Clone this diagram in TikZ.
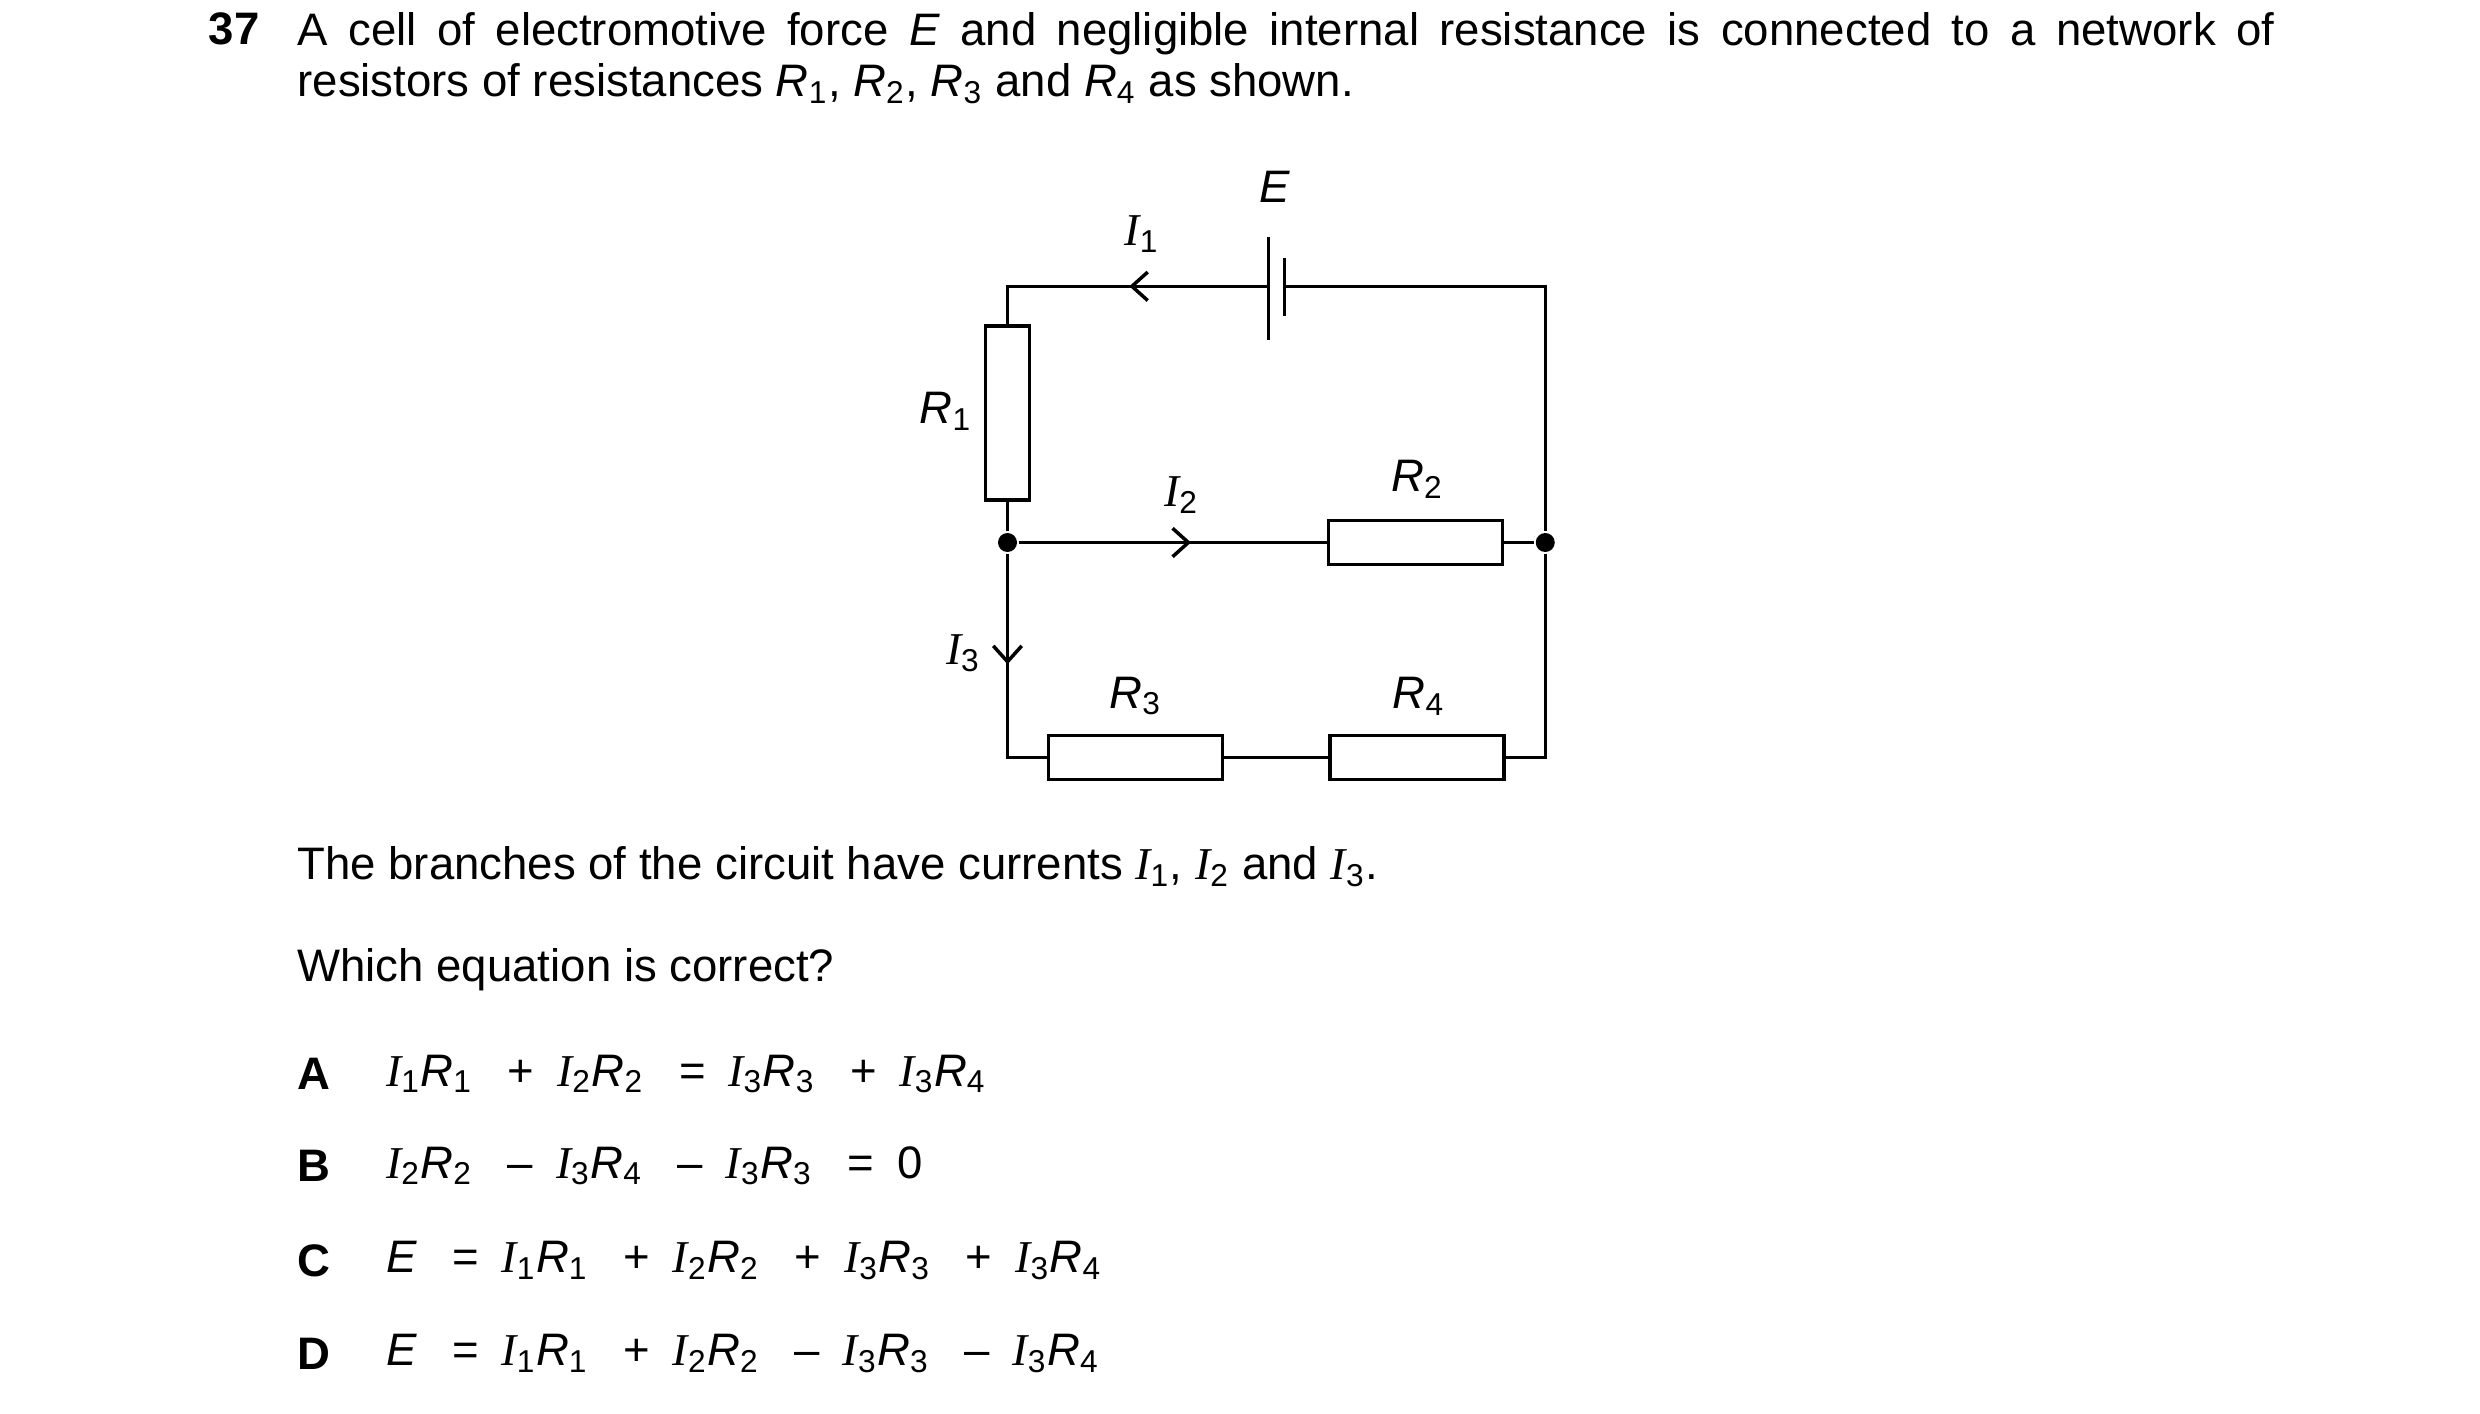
\documentclass[tikz,border=0pt]{standalone}
\usepackage{fontspec}
\setmainfont{Liberation Sans}
\newfontfamily\serifI{Liberation Serif}
\usetikzlibrary{arrows.meta,positioning}
\newcommand\cur[1]{{\serifI\itshape I}\textsubscript{#1}}
\newcommand\res[1]{\textit{R}\textsubscript{#1}}
\begin{document}
\begin{tikzpicture}[x=0.5pt,y=-0.5pt,line width=1.1pt,
  every node/.style={font=\fontsize{14.4}{16}\selectfont},
  resistor/.style={draw,rectangle,line width=1.1pt,minimum width=55pt,minimum height=14pt,inner sep=0pt},
  vresistor/.style={resistor,minimum width=14pt,minimum height=55pt},
  dot/.style={circle,fill,inner sep=0pt,minimum size=6pt},
  flow/.style={-{Straight Barb[length=5pt,width=9pt]}},
  lbl/.style={inner sep=0pt}]
\useasboundingbox (0,0) rectangle (1568,894);

% question text
\node[lbl,anchor=north west,font=\bfseries\fontsize{14.4}{16}\selectfont] (num) at (131,7) {37};
\node[lbl,anchor=north west,text width=625pt,align=justify] (q) at (187,7)
  {A cell of electromotive force \textit{E} and negligible internal resistance is connected to a network of\linebreak resistors of resistances \res1, \res2, \res3 and \res4 as shown.};

% corners and junctions
\coordinate (tl) at (637,181);
\coordinate (tr) at (977,181);
\coordinate (bl) at (637,479);
\coordinate (br) at (977,479);
\node[dot] (jl) at (637,343) {};
\node[dot] (jr) at (977,343) {};

% cell
\coordinate (pa) at (802,150); \coordinate (pb) at (802,215);
\coordinate (na) at (812,163); \coordinate (nb) at (812,200);
\draw (pa) -- (pb);
\draw (na) -- (nb);
\node[lbl] (E) at (806,118) {\textit{E}};

% resistors
\node[vresistor] (R1) at (637,261) {};
\node[resistor] (R2) at (895,343) {};
\node[resistor] (R3) at (718,479) {};
\node[resistor] (R4) at (896,479) {};

% wires
\draw (pa|-tl) -- (tl) -- (R1.north);
\draw (R1.south) -- (jl) -- (R2.west);
\draw (R2.east) -- (jr);
\draw (na|-tr) -- (tr) -- (jr) -- (br) -- (R4.east);
\draw (R4.west) -- (R3.east);
\draw (R3.west) -- (bl) -- (jl);

% current arrows
\coordinate (a1) at (732,181); \coordinate (a1e) at (714,181);
\coordinate (a2) at (735,343); \coordinate (a2e) at (753,343);
\coordinate (a3) at (637,402); \coordinate (a3e) at (637,420);
\draw[flow] (a1) -- (a1e);
\draw[flow] (a2) -- (a2e);
\draw[flow] (a3) -- (a3e);

% labels
\node[lbl] (lI1) at (722,148) {\cur1};
\node[lbl] (lI2) at (747,313) {\cur2};
\node[lbl] (lI3) at (609,413) {\cur3};
\node[lbl] (lR1) at (598,260) {\res1};
\node[lbl] (lR2) at (896,303) {\res2};
\node[lbl] (lR3) at (718,440) {\res3};
\node[lbl] (lR4) at (897,440) {\res4};

% rest of question
\node[lbl,anchor=west] (branch) at (187,548) {The branches of the circuit have currents \cur1, \cur2 and \cur3.};
\node[lbl,anchor=west] (which) at (187,613) {Which equation is correct?};
\foreach \l/\y/\eq in {
  A/679/{\cur1\res1 \enspace+\enspace \cur2\res2 \enspace=\enspace \cur3\res3 \enspace+\enspace \cur3\res4},
  B/737/{\cur2\res2 \enspace–\enspace \cur3\res4 \enspace–\enspace \cur3\res3 \enspace=\enspace 0},
  C/797/{\textit{E} \enspace=\enspace \cur1\res1 \enspace+\enspace \cur2\res2 \enspace+\enspace \cur3\res3 \enspace+\enspace \cur3\res4},
  D/856/{\textit{E} \enspace=\enspace \cur1\res1 \enspace+\enspace \cur2\res2 \enspace–\enspace \cur3\res3 \enspace–\enspace \cur3\res4}}{
  \node[lbl,anchor=west,font=\bfseries\fontsize{14.4}{16}\selectfont] (opt\l) at (187,\y) {\l};
  \node[lbl,anchor=west] (eq\l) at (243,\y) {\eq};
}
\end{tikzpicture}
\end{document}
